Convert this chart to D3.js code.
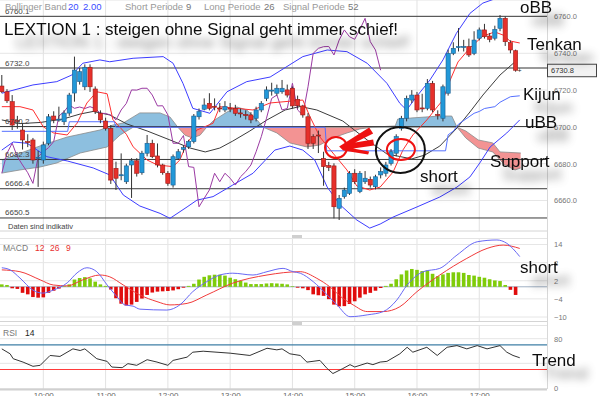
<!DOCTYPE html>
<html>
<head>
<meta charset="utf-8">
<script src="https://cdn.jsdelivr.net/npm/d3@7/dist/d3.min.js"></script>
<style>
  body { margin: 0; background: #fff; }
  svg { display: block; font-family: "Liberation Sans", Arial, sans-serif; }
</style>
</head>
<body>
<script>
// 5 minute candles, first one at 09:20
const startTime = "09:20";
const stepMinutes = 5;

const open = [6722.2,6719.1,6713.7,6703.5,6698.3,6692.0,6692.9,6683.0,6682.0,6691.1,
  6705.9,6703.8,6702.8,6707.5,6718.4,6724.6,6721.8,6732.4,6720.6,6707.4,
  6703.2,6699.2,6677.5,6673.5,6670.2,6679.3,6681.6,6675.1,6685.7,6691.1,
  6684.2,6679.3,6674.8,6668.4,6682.9,6687.8,6689.2,6692.0,6705.5,6709.6,
  6712.8,6711.2,6710.3,6709.2,6710.2,6710.1,6707.6,6706.7,6706.5,6704.7,
  6709.2,6715.5,6719.5,6718.3,6719.1,6720.1,6721.0,6715.0,6711.4,6705.5,
  6694.7,6695.6,6682.9,6679.0,6678.8,6655.8,6662.1,6663.9,6674.8,6664.8,
  6670.2,6671.5,6667.5,6673.9,6674.8,6680.2,6685.7,6699.2,6704.7,6714.6,
  6717.3,6710.3,6710.1,6723.7,6706.8,6704.7,6718.3,6740.0,6743.4,6743.5,
  6743.6,6740.0,6748.2,6752.7,6749.4,6748.2,6753.6,6759.0,6745.8,6741.4];
const high = [6728.2,6720.5,6717.3,6706.0,6702.0,6696.0,6694.0,6687.0,6692.0,6707.0,
  6708.5,6711.0,6709.0,6718.5,6738.2,6732.0,6734.0,6734.0,6722.0,6709.0,
  6705.0,6701.0,6681.1,6685.6,6680.0,6683.0,6683.0,6687.0,6695.6,6693.0,
  6691.0,6680.0,6676.0,6685.0,6688.0,6690.0,6693.0,6707.0,6710.0,6715.5,
  6718.3,6715.5,6713.0,6714.0,6713.0,6712.0,6710.0,6709.0,6708.0,6711.0,
  6714.0,6722.0,6724.0,6723.0,6725.5,6723.0,6722.0,6717.0,6712.0,6707.5,
  6696.0,6698.0,6686.5,6681.0,6680.2,6663.0,6667.0,6676.0,6677.0,6676.0,
  6676.0,6673.0,6674.0,6678.0,6681.0,6688.0,6696.0,6706.0,6717.0,6720.0,
  6719.0,6718.0,6726.0,6725.0,6709.0,6723.0,6742.0,6746.0,6753.7,6747.3,
  6748.0,6752.0,6754.0,6756.0,6751.0,6755.0,6760.8,6760.0,6747.0,6742.0];
const low = [6718.4,6713.0,6698.3,6699.0,6687.7,6689.0,6680.0,6667.4,6680.0,6690.0,
  6702.0,6702.8,6701.0,6706.0,6713.7,6723.0,6720.0,6719.0,6707.0,6702.0,
  6698.0,6669.0,6665.7,6671.0,6669.0,6661.4,6673.0,6674.0,6684.0,6683.0,
  6678.0,6674.0,6668.0,6667.0,6682.0,6686.0,6688.0,6691.0,6704.0,6709.0,
  6709.0,6709.0,6708.0,6708.0,6708.0,6706.0,6705.0,6704.0,6702.0,6703.0,
  6708.0,6714.0,6717.0,6717.0,6718.0,6716.0,6710.0,6710.0,6705.0,6688.0,
  6688.0,6685.8,6668.0,6676.0,6650.3,6649.4,6661.0,6663.0,6669.0,6664.0,
  6669.0,6667.0,6666.0,6672.0,6673.0,6679.0,6684.0,6698.0,6703.0,6713.0,
  6708.0,6708.0,6709.0,6708.0,6704.0,6703.0,6717.0,6739.0,6741.0,6741.0,
  6738.0,6739.0,6747.0,6748.0,6746.0,6747.0,6752.0,6744.0,6740.0,6730.0];
const close = [6719.1,6714.2,6701.0,6703.0,6692.9,6691.5,6682.0,6683.5,6690.2,6705.5,
  6703.8,6704.2,6707.5,6717.3,6730.9,6730.0,6732.4,6721.8,6708.3,6703.8,
  6699.2,6671.1,6672.1,6674.0,6678.8,6681.6,6674.8,6685.7,6691.1,6683.8,
  6679.3,6675.1,6669.3,6683.8,6686.5,6688.7,6692.0,6705.9,6708.3,6711.9,
  6710.1,6710.8,6710.0,6711.0,6709.9,6707.4,6707.3,6706.4,6703.8,6709.2,
  6712.8,6720.1,6720.0,6721.0,6721.0,6717.3,6711.4,6711.5,6706.5,6691.1,
  6691.1,6695.3,6678.4,6678.0,6656.6,6661.2,6665.7,6674.8,6670.2,6674.8,
  6672.1,6668.4,6672.9,6675.7,6679.3,6686.5,6694.7,6704.7,6715.5,6717.3,
  6709.2,6710.0,6723.7,6709.2,6706.4,6721.8,6740.0,6742.7,6743.6,6743.7,
  6739.1,6747.2,6752.7,6749.0,6747.6,6753.0,6759.0,6746.3,6741.8,6730.8];
const lastPrice = 6730.8;
const chikouShift = 26;

// indicator lines: [candle index, value]
const bbUpper = [[0,6718.3],[6,6722.8],[10.6,6724.6],[13.5,6728.2],[15.6,6734.6],[18.9,6736.4],[20.8,6735.4],
  [25.3,6737.3],[31.1,6738.2],[33,6734.6],[34.9,6723.7],[36.8,6710.1],[40.1,6707.4],[43.4,6719.1],[47.2,6724.6],
  [51.7,6727.1],[58,6738.2],[62.7,6741.8],[66.5,6740.9],[70.4,6734.6],[74.2,6723.7],[76.7,6712.8],[78,6709.2],
  [79.9,6716.4],[82.5,6725.5],[85,6736.4],[87.6,6750.9],[90.2,6761.7],[92.7,6767.3],[96,6770.6],[99,6772]];
const bbMiddle = [[0,6703.8],[3.5,6701.8],[7.4,6702.4],[11.8,6704.3],[15.1,6707],[17.6,6708.4],[20.8,6706.5],
  [24.1,6701.6],[28,6697.8],[32.4,6692.9],[36.3,6688.5],[39.2,6686.4],[42,6688.5],[44.5,6692.3],[47.8,6697.8],
  [51.1,6703.8],[54.6,6709.2],[57.5,6711.1],[60.7,6709.2],[65.7,6703.2],[70.4,6692.9],[74.2,6685.3],[79,6682.6],
  [81.5,6684.7],[84.4,6689.6],[87.7,6699.4],[90.2,6708.1],[92.7,6717.3],[96,6728.2],[99.3,6736.4]];
const bbLower = [[0,6687.4],[2.2,6691.8],[4.9,6691.1],[8.7,6683.8],[12.6,6681.5],[17.6,6677.7],[20.8,6673.9],
  [23.4,6663],[26.6,6657],[30.5,6653],[32.4,6650.3],[35.7,6656.5],[37.6,6660.2],[40.7,6662.1],[44.5,6668.4],
  [48.4,6674.8],[52.6,6687.4],[55.5,6689.6],[58,6687.4],[60.3,6682],[62.7,6667.3],[65.2,6657.6],[68.4,6649.4],
  [70.9,6645],[72.9,6647.2],[75.4,6651],[80,6656.5],[84.4,6661.9],[87.7,6667.3],[90.2,6672.8],[92.1,6680.4],
  [94.1,6689.1],[97.3,6696.7],[99.8,6703.8]];
const tenkan = [[0,6711],[3.5,6711],[6,6709.2],[8,6700],[10,6696.7],[12.6,6695.6],[14.5,6702],[16.4,6713],
  [18.3,6719.1],[20.3,6718],[21.4,6704],[24,6696],[25.3,6689.2],[28,6682],[30,6679.3],[33,6678.4],[34.3,6682],
  [35.7,6691.2],[37.6,6698.3],[40.7,6702],[42,6711],[48.4,6709.2],[51.7,6713],[58,6714.6],[59.4,6705.4],
  [61.3,6694.5],[63.8,6685.8],[66.5,6676.6],[68.4,6667.9],[70.9,6665.7],[72.9,6667.3],[75.4,6675.5],
  [77.3,6687.5],[79.2,6695.6],[81.9,6703.8],[83.9,6710.9],[85,6714.6],[86.4,6725.5],[87.9,6735.3],
  [90.2,6742.9],[92.7,6749.4],[95,6751.6],[96.6,6749.9],[97.9,6746.7],[99.8,6745.6]];
const kijun = [[0,6697.6],[12.7,6697.6],[13,6702.8],[21.7,6702.8],[22,6699.8],[62.3,6699.8],[62.6,6687],
  [85.5,6687],[86,6695.7],[87,6697.7],[88,6701.5],[91,6707.4],[92,6708.4],[93,6710],[95,6711],[96,6713.4],
  [98,6716.4],[99.8,6716.9]];
const senkouA = [[0,6682],[7.9,6690.2],[12.6,6694.5],[18.9,6698.3],[21.4,6701],[23.4,6702.1],[25.3,6705.4],
  [26.6,6707.6],[30.5,6707.6],[32.4,6705.4],[33.9,6699.9],[35.3,6695.5],[36.7,6694],[38.2,6695.5],[39.5,6699.9],
  [40.7,6703.2],[43.4,6708.1],[45.3,6710.8],[47.2,6709.2],[49.2,6703.8],[50.3,6699.9],[53,6696.7],[55.5,6691.3],
  [58.8,6689.1],[61.3,6690.2],[63.8,6694],[66.5,6696.7],[69,6698.9],[71.5,6699.9],[75.8,6700.5],[76.3,6704.3],
  [78.7,6704.8],[84.4,6705.9],[86.7,6705.9],[87.7,6699.9],[89.4,6694],[91.8,6688.5],[94.6,6686.4],
  [96.9,6679.3],[98.9,6676.6],[100,6677.7]];
const senkouB = [[0,6674.9],[3.5,6676.6],[7.4,6678.2],[10.6,6680.4],[15.1,6685.8],[20.3,6689.1],[22.8,6695.6],
  [25.3,6699.8],[87.7,6699.8],[89.4,6697.8],[91.8,6692.9],[94.6,6691.3],[96,6686.4],[100,6685.8]];

const macdHist = [0.8,0.6,-0.5,-0.7,-2.0,-2.5,-3.4,-3.6,-3.5,-2.0,
  -1.3,-0.6,0.2,0.8,2.4,2.9,3.2,2.8,1.7,0.8,
  0.3,-0.9,-3.8,-5.6,-6.2,-5.9,-5.0,-3.9,-2.7,-1.9,
  -1.6,-1.5,-1.4,-1.2,-0.8,-0.3,0.3,1.0,2.4,3.3,
  3.8,4.0,4.0,3.7,3.0,2.5,2.0,1.4,0.9,0.9,
  0.9,1.1,1.2,1.1,1.0,0.8,0.2,-0.3,-0.5,-1.1,
  -2.5,-2.8,-3.0,-4.1,-5.9,-6.5,-6.4,-5.7,-4.8,-3.6,
  -2.5,-2.0,-1.3,-0.4,0.3,1.0,2.5,4.1,5.4,5.9,
  5.6,5.2,5.4,4.3,3.5,4.1,4.6,4.8,4.8,4.6,
  3.9,3.7,3.3,3.0,2.5,2.1,1.9,0.6,-1.0,-2.7];
const macdLine = [[0,6.3],[1.6,5.6],[3.5,2.9],[6,-1.1],[7.9,-2.1],[9.9,-1.1],[12.6,1.3],[14.5,4.6],[16.4,6.3],
  [18.3,5],[20.3,0.6],[22.2,-3.3],[23.7,-6],[25.3,-6.4],[26.6,-7.4],[31.8,-7.7],[34.3,-6],[36.8,-1.6],
  [39.5,1.7],[42,3.9],[44.5,4.5],[48.4,3.9],[51.1,5],[54.2,6.1],[56.1,5],[57.5,4.5],[60,1.7],[62.7,-2.7],
  [64.6,-6],[67.1,-9.9],[70.4,-9.3],[73.5,-8.2],[76.1,-4.4],[78.1,0.6],[81.2,5],[84.4,6.1],[87.7,10.5],
  [91.6,14.9],[95.4,15.5],[97.3,14.4],[99.8,10]];
const macdSignal = [[0,5.6],[3.5,5],[7.4,2.3],[9.9,0.6],[12.6,0.3],[15.6,2.3],[18.9,3.9],[20.8,3.3],[23.4,0.6],
  [26.6,-2.7],[29.9,-4.9],[32.4,-6],[35.7,-5.5],[39.5,-2.7],[44.5,1.2],[51.1,3.9],[57.5,5],[60.7,2.8],
  [63.2,0],[65.7,-3.8],[67.7,-6],[70.4,-8.2],[73.5,-8.2],[76.7,-6.6],[80,-1.6],[84.4,3.9],[89.6,9.4],
  [93.5,12.7],[96.6,13.8],[99.8,12.7]];
const rsi = [[0,63.5],[1.6,55.5],[2.2,47.5],[4.1,42],[6,35.2],[7.4,36.8],[9.3,52.8],[11.2,51.2],[13.7,63.5],
  [15.1,60.8],[16,63.5],[18.3,47.5],[20.3,43.2],[21.2,34],[23.2,33],[24.3,39.5],[26,36.8],[28,45.9],[29.9,42.1],
  [32,36.8],[33,44.8],[35.7,50.1],[36.8,58.1],[38.8,59.7],[44,56.5],[47.8,52.8],[51.1,64.5],[53,61.9],
  [54,63.5],[55.5,55.5],[57.5,52.8],[58.8,42],[61.3,44.8],[62.7,31.5],[63.8,23.5],[65.7,31.5],[67.1,37.9],
  [68,34.1],[70.4,40.5],[71.5,37.9],[72.9,42.1],[74.2,43.2],[76.7,55.5],[78.1,66.1],[79.2,58.1],[81.9,66.1],
  [83.9,52.8],[85.8,66.1],[87.7,68.8],[89.6,63.5],[91.6,68.8],[93.5,63.5],[96,68.8],[97.3,58.1],[98.5,52.8],
  [99.8,49.1]];

const levels = [6760.1, 6732.0, 6700.2, 6682.3, 6666.4, 6650.5];
const priceTicks = [6660, 6680, 6700, 6720, 6740, 6760];
const macdTicks = [14, 8, 2, -4, -10];
const rsiTicks = [80, 0];
const rsiBands = [70, 30];

const W = 600, H = 396, R = 547;
const svg = d3.select("body").append("svg").attr("width", W).attr("height", H);

const t0 = d3.timeParse("%H:%M")(startTime);
const timeAt = i => new Date(t0.getTime() + i * stepMinutes * 60000);
const x = d3.scaleTime().domain([timeAt(0), timeAt(close.length - 1)]).range([1.8, 515.6]);
const xi = i => x(timeAt(i));

const y = d3.scaleLinear().domain([6650, 6760]).range([218.9, 16.5]);
const yM = d3.scaleLinear().domain([-10, 14]).range([317, 244.5]);
const yR = d3.scaleLinear().domain([0, 80]).range([388, 338.7]);

const panels = { main: [0, 231], macd: [238.5, 321.5], rsi: [325.5, 389] };

const defs = svg.append("defs");
Object.entries(panels).forEach(([k, p]) => {
  defs.append("clipPath").attr("id", "clip-" + k)
    .append("rect").attr("x", 0).attr("y", p[0]).attr("width", R).attr("height", p[1] - p[0]);
});
const f = defs.append("filter").attr("id", "shadow")
  .attr("x", "-30%").attr("y", "-60%").attr("width", "190%").attr("height", "320%");
f.append("feGaussianBlur").attr("in", "SourceAlpha").attr("stdDeviation", 4.5);
f.append("feOffset").attr("dx", 12).attr("dy", 13).attr("result", "b");
f.append("feFlood").attr("flood-color", "#000").attr("flood-opacity", 0.5);
f.append("feComposite").attr("in2", "b").attr("operator", "in");
const fm = f.append("feMerge");
fm.append("feMergeNode");
fm.append("feMergeNode").attr("in", "SourceGraphic");

// frames and grid
const hours = x.ticks(d3.timeHour.every(1));
Object.values(panels).forEach(p => {
  svg.append("g").selectAll("line").data(hours).join("line")
    .attr("x1", d => x(d)).attr("x2", d => x(d)).attr("y1", p[0]).attr("y2", p[1])
    .attr("stroke", "#e2e2e2");
  svg.append("line").attr("x1", 0).attr("x2", R).attr("y1", p[1]).attr("y2", p[1]).attr("stroke", "#d4d4d4");
  svg.append("line").attr("x1", 0).attr("x2", R).attr("y1", p[0]).attr("y2", p[0]).attr("stroke", "#e4e4e4");
});
svg.append("line").attr("x1", R + 0.5).attr("x2", R + 0.5).attr("y1", 0).attr("y2", 389).attr("stroke", "#d8d8d8");
svg.append("line").attr("x1", 0).attr("x2", R).attr("y1", 389.5).attr("y2", 389.5).attr("stroke", "#d0d0d0").attr("stroke-width", 2);
[236.5, 323.5].forEach(v => {
  svg.append("rect").attr("x", 292).attr("y", v - 1.5).attr("width", 10).attr("height", 3).attr("fill", "#cfcfcf");
});

// ---------- main panel ----------
const main = svg.append("g").attr("clip-path", "url(#clip-main)");
main.append("g").selectAll("line").data(priceTicks).join("line")
  .attr("x1", 0).attr("x2", R).attr("y1", d => y(d)).attr("y2", d => y(d)).attr("stroke", "#e6e6e6");

const line = (sy) => d3.line().x(d => xi(d[0])).y(d => sy(d[1]));
const PB = panels.main[1];
defs.append("clipPath").attr("id", "belowA").append("path")
  .attr("d", d3.area().x(d => xi(d[0])).y0(PB).y1(d => y(d[1]))(senkouA));
defs.append("clipPath").attr("id", "aboveA").append("path")
  .attr("d", d3.area().x(d => xi(d[0])).y0(0).y1(d => y(d[1]))(senkouA));
main.append("path").attr("clip-path", "url(#belowA)")
  .attr("d", d3.area().x(d => xi(d[0])).y0(0).y1(d => y(d[1]))(senkouB))
  .attr("fill", "#8dbfdf");
main.append("path").attr("clip-path", "url(#aboveA)")
  .attr("d", d3.area().x(d => xi(d[0])).y0(PB).y1(d => y(d[1]))(senkouB))
  .attr("fill", "#f39393");
[senkouA, senkouB].forEach(s => main.append("path").attr("d", line(y)(s))
  .attr("fill", "none").attr("stroke", "#8a8a8a").attr("stroke-width", 0.8));

main.append("g").selectAll("line").data(levels).join("line")
  .attr("x1", 0).attr("x2", R).attr("y1", d => y(d)).attr("y2", d => y(d))
  .attr("stroke", (d, i) => i === 1 ? "#777" : "#3a3a3a").attr("stroke-width", (d, i) => i === 1 ? 1.6 : 1);

const chikou = close.slice(chikouShift).map((c, i) => [i, c]);
const lines = [
  [bbUpper, "#3d3dff", 1], [bbLower, "#3d3dff", 1], [bbMiddle, "#3c3c3c", 1],
  [chikou, "#9b3aa3", 1], [tenkan, "#ff3030", 1], [kijun, "#5570ff", 1]
];
lines.forEach(([d, c, w]) => main.append("path").attr("d", line(y)(d))
  .attr("fill", "none").attr("stroke", c).attr("stroke-width", w));

const idx = d3.range(close.length);
const cg = main.append("g");
cg.selectAll("line").data(idx).join("line")
  .attr("x1", i => xi(i)).attr("x2", i => xi(i))
  .attr("y1", i => y(high[i])).attr("y2", i => y(low[i]))
  .attr("stroke", "#333").attr("stroke-width", 1);
cg.selectAll("rect").data(idx).join("rect")
  .attr("x", i => xi(i) - 2.1).attr("width", 4.2)
  .attr("y", i => y(Math.max(open[i], close[i])))
  .attr("height", i => Math.max(1, Math.abs(y(open[i]) - y(close[i]))))
  .attr("fill", i => close[i] >= open[i] ? "#2298d8" : "#e6302b")
  .attr("stroke", i => close[i] >= open[i] ? "#1b5f91" : "#9a1a16").attr("stroke-width", 0.6);
main.append("text").attr("x", xi(close.length - 1) + 2).attr("y", y(lastPrice) + 3)
  .text("+").attr("font-size", 7).attr("fill", "#222");

// level labels
svg.append("g").selectAll("text").data(levels).join("text")
  .attr("x", 5).attr("y", d => y(d) - 2.5).text(d => d.toFixed(1))
  .attr("font-size", 8).attr("fill", "#444");

// annotations
const marks = [
  { i: 76.8, p: 6687.4, rx: 24.5, ry: 23, c: "#111" },
  { i: 76.9, p: 6687.7, rx: 14, ry: 10.5, c: "#ee1111" },
  { i: 64.4, p: 6688.8, rx: 11, ry: 10.5, c: "#ee1111" }
];
svg.append("g").selectAll("ellipse").data(marks).join("ellipse")
  .attr("cx", d => xi(d.i)).attr("cy", d => y(d.p)).attr("rx", d => d.rx).attr("ry", d => d.ry)
  .attr("fill", "none").attr("stroke", d => d.c).attr("stroke-width", 2);
const arrowTip = [65, 6689.3];
const arrowShape = [[0,0],[30,-19],[34,-13],[16,-4],[34,-7],[35,-1],[14,2],[30,5],[29,8],[4,4]];
svg.append("polygon")
  .attr("points", arrowShape.map(p => [xi(arrowTip[0]) + p[0], y(arrowTip[1]) + p[1]].join(",")).join(" "))
  .attr("fill", "#ee1111");

// right price axis
const ra = svg.append("g").attr("transform", `translate(${R + 4},0)`)
  .call(d3.axisRight(y).tickValues(priceTicks).tickFormat(d3.format(".1f")).tickSize(0));
ra.select(".domain").remove();
ra.selectAll("text").attr("font-size", 7.5).attr("fill", "#777").attr("font-family", null);
svg.append("rect").attr("x", R + 0.5).attr("y", y(lastPrice) - 6).attr("width", 49).attr("height", 12.5)
  .attr("fill", "#f2f2f2").attr("stroke", "#444");
svg.append("text").attr("x", R + 4).attr("y", y(lastPrice) + 3).text(lastPrice.toFixed(1))
  .attr("font-size", 7.5).attr("fill", "#333");

svg.append("text").attr("x", 8).attr("y", 229).text("Daten sind indikativ")
  .attr("font-size", 7.5).attr("fill", "#444");

// header
const header = [
  ["Bollinger Band", 5, "#999"], ["20", 68, "#3b4cff"], ["2.00", 83, "#3b4cff"],
  ["Short Periode", 125, "#999"], ["9", 186, "#777"], ["Long Periode", 204, "#999"],
  ["26", 264, "#777"], ["Signal Periode", 283, "#999"], ["52", 348, "#777"]
];
svg.append("g").selectAll("text").data(header).join("text")
  .attr("x", d => d[1]).attr("y", 10).attr("fill", d => d[2]).attr("font-size", 9.5).text(d => d[0]);

// ---------- MACD ----------
const mg = svg.append("g").attr("clip-path", "url(#clip-macd)");
mg.append("g").selectAll("line").data(macdTicks).join("line")
  .attr("x1", 0).attr("x2", R).attr("y1", d => yM(d)).attr("y2", d => yM(d)).attr("stroke", "#e6e6e6");
mg.append("line").attr("x1", 0).attr("x2", R).attr("y1", yM(0)).attr("y2", yM(0)).attr("stroke", "#9fb0c4");
mg.append("g").selectAll("rect").data(macdHist).join("rect")
  .attr("x", (d, i) => xi(i) - 1.8).attr("width", 3.6)
  .attr("y", d => yM(Math.max(0, d))).attr("height", d => Math.abs(yM(d) - yM(0)))
  .attr("fill", d => d >= 0 ? "#7fcc0a" : "#e00c0c");
mg.append("path").attr("d", line(yM).curve(d3.curveMonotoneX)(macdSignal))
  .attr("fill", "none").attr("stroke", "#f03a3a").attr("stroke-width", 1);
mg.append("path").attr("d", line(yM).curve(d3.curveMonotoneX)(macdLine))
  .attr("fill", "none").attr("stroke", "#6868f4").attr("stroke-width", 1);
const ma = svg.append("g").attr("transform", `translate(${R + 4},0)`)
  .call(d3.axisRight(yM).tickValues(macdTicks).tickSize(0));
ma.select(".domain").remove();
ma.selectAll("text").attr("font-size", 7.5).attr("fill", "#777").attr("font-family", null);
const macdLabel = [["MACD", 3, "#777"], ["12", 35, "#e83030"], ["26", 50, "#e83030"], ["9", 66, "#e83030"]];
svg.append("g").selectAll("text").data(macdLabel).join("text")
  .attr("x", d => d[1]).attr("y", 251).attr("fill", d => d[2]).attr("font-size", 8.5).text(d => d[0]);

// ---------- RSI ----------
const rg = svg.append("g").attr("clip-path", "url(#clip-rsi)");
rg.append("g").selectAll("line").data([80, 40]).join("line")
  .attr("x1", 0).attr("x2", R).attr("y1", d => yR(d)).attr("y2", d => yR(d)).attr("stroke", "#e6e6e6");
rg.append("g").selectAll("line").data(rsiBands).join("line")
  .attr("x1", 0).attr("x2", R).attr("y1", d => yR(d)).attr("y2", d => yR(d))
  .attr("stroke", d => d > 50 ? "#3f7fa6" : "#ff3b3b").attr("stroke-width", 1.2);
rg.append("path").attr("d", line(yR)(rsi)).attr("fill", "none").attr("stroke", "#333").attr("stroke-width", 1);
const rax = svg.append("g").attr("transform", `translate(${R + 4},0)`)
  .call(d3.axisRight(yR).tickValues(rsiTicks).tickSize(0));
rax.select(".domain").remove();
rax.selectAll("text").attr("font-size", 7.5).attr("fill", "#777").attr("font-family", null);
const rsiLabel = [["RSI", 3, "#777"], ["14", 25, "#222"]];
svg.append("g").selectAll("text").data(rsiLabel).join("text")
  .attr("x", d => d[1]).attr("y", 336).attr("fill", d => d[2]).attr("font-size", 8.5).text(d => d[0]);

// time axis
const ta = svg.append("g").attr("transform", "translate(0,389)")
  .call(d3.axisBottom(x).ticks(d3.timeHour.every(1)).tickFormat(d3.timeFormat("%H:%M")).tickSize(0));
ta.select(".domain").remove();
ta.selectAll("text").attr("font-size", 8).attr("fill", "#666").attr("font-family", null).attr("dy", "0.7em");

// notes with drop shadow
const notes = [
  ["LEXTION 1 : steigen ohne Signal geht immer schief!", 4, 35],
  ["oBB", 520, 12.5], ["Tenkan", 527, 50], ["Kijun", 523, 100], ["uBB", 525, 128],
  ["Support", 490, 166.5], ["short", 420, 182], ["short", 520, 273], ["Trend", 532, 366]
];
svg.append("g").attr("filter", "url(#shadow)").selectAll("text").data(notes).join("text")
  .attr("x", d => d[1]).attr("y", d => d[2]).attr("font-size", 17).attr("fill", "#111").text(d => d[0]);
</script>
</body>
</html>
